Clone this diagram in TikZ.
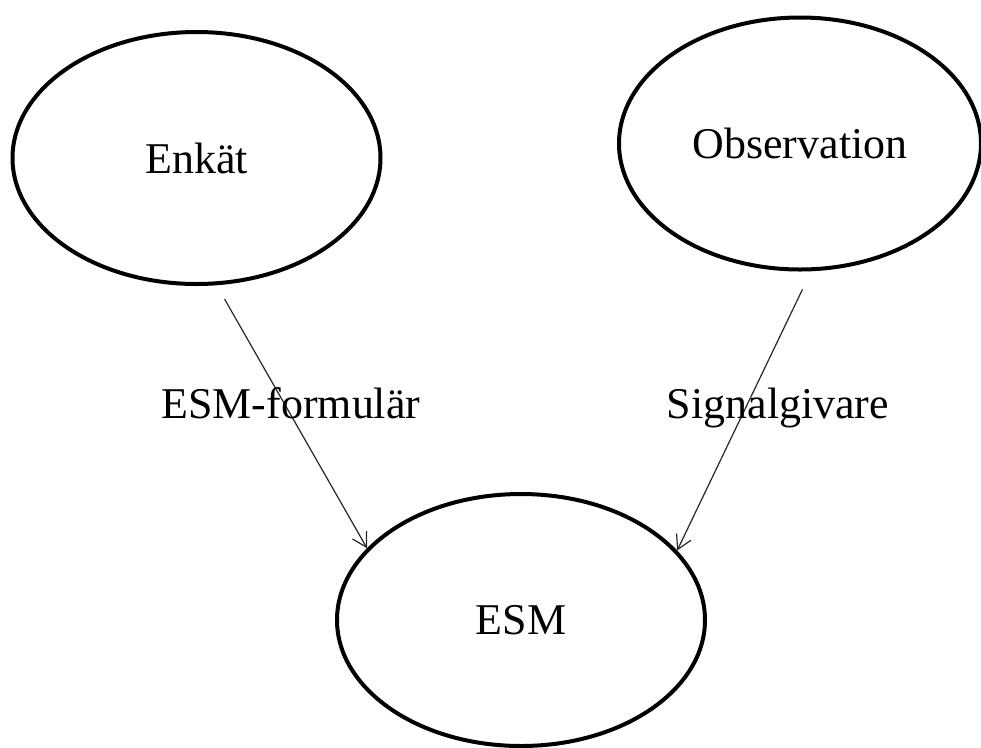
\documentclass[tikz,border=0pt]{standalone}
\usepackage{fontspec}
\setmainfont{Liberation Serif}
\usepackage{tikz}
\usetikzlibrary{arrows.meta,shapes.geometric}

\begin{document}
\begin{tikzpicture}[
  oval/.style={ellipse, draw=black, line width=0.08cm, minimum width=7.36cm,
               minimum height=5.04cm, inner sep=2pt, font=\fontsize{25}{30}\selectfont},
  lbl/.style={anchor=base, inner sep=0pt, font=\fontsize{25}{30}\selectfont},
  edge/.style={-{Straight Barb[length=0.28cm, width=0.32cm]}, line width=0.024cm, draw=black!85}]
\useasboundingbox (0,0) rectangle (19.62,-14.94);
\node[oval]                      (enk) at ( 3.93,-3.16) {Enkät};
\node[oval, minimum width=7.24cm] (obs) at (16.00,-2.87) {Observation};
\node[oval]                      (esm) at (10.42,-12.40) {ESM};
\draw[edge, shorten <=0.32cm] (enk.-81.6) -- (esm.155.8);
\draw[edge, shorten <=0.40cm] (obs.-85.3) -- (esm.24.4);
\node[lbl] (form) at ( 5.82,-8.36) {ESM-formulär};
\node[lbl] (sig)  at (15.56,-8.36) {Signalgivare};
\end{tikzpicture}
\end{document}
